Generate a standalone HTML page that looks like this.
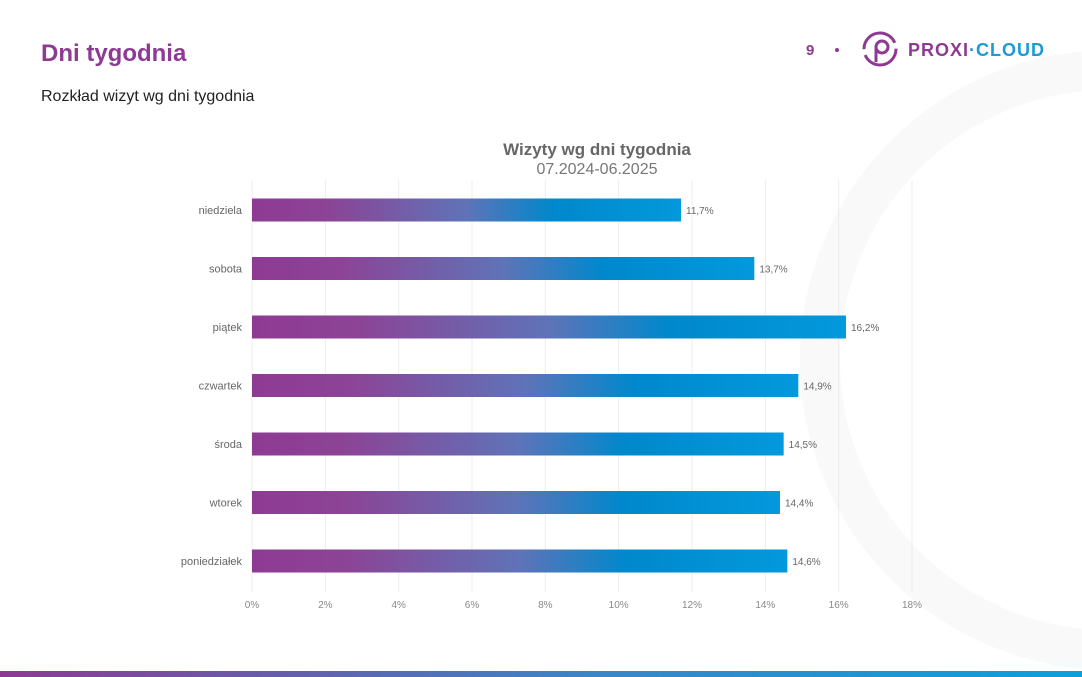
<!DOCTYPE html>
<html><head><meta charset="utf-8"><style>
body{margin:0;width:1082px;height:677px;overflow:hidden;background:#fff;font-family:"Liberation Sans",sans-serif;position:relative}
.t{position:absolute}
</style></head><body>
<svg width="1082" height="677" style="position:absolute;left:0;top:0">
<defs>
<linearGradient id="bg" x1="0" x2="1"><stop offset="0" stop-color="#8e3a93"/><stop offset="0.18" stop-color="#8c4496"/><stop offset="0.5" stop-color="#5f73b8"/><stop offset="0.7" stop-color="#0088cc"/><stop offset="1" stop-color="#0399dc"/></linearGradient>
<linearGradient id="sg" x1="0" x2="1"><stop offset="0" stop-color="#8e3a93"/><stop offset="0.55" stop-color="#3a86c8"/><stop offset="1" stop-color="#0aa0dc"/></linearGradient>
</defs>
<circle cx="1110" cy="360" r="290" fill="none" stroke="#f9f9f9" stroke-width="40"/>
<rect x="0" y="671" width="1082" height="6" fill="url(#sg)"/>
<g id="chart"></g>
<g>
<text x="806" y="55" font-size="15" font-weight="bold" fill="#8e3a93">9</text>
<circle cx="837" cy="50" r="2" fill="#8e3a93"/>
<circle cx="880" cy="49" r="16" fill="none" stroke="#8e3a93" stroke-width="3" stroke-dasharray="44 6"/>
<circle cx="882" cy="47" r="6" fill="none" stroke="#8e3a93" stroke-width="3"/>
<line x1="876" y1="47" x2="876" y2="62" stroke="#8e3a93" stroke-width="3"/>
<text x="908" y="56" font-size="18" font-weight="bold" letter-spacing="1" fill="#8e3a93">PROXI<tspan fill="#3a86c8">·</tspan><tspan fill="#1b9ad8">CLOUD</tspan></text>
</g>
</svg>
<div class="t" style="left:41px;top:40px;font-size:24px;font-weight:bold;color:#8e3a93">Dni tygodnia</div>
<div class="t" style="left:41px;top:88px;font-size:16px;color:#222">Rozkład wizyt wg dni tygodnia</div>
<div class="t" style="left:0;width:1194px;top:140px;text-align:center;font-size:17px;font-weight:bold;color:#666">Wizyty wg dni tygodnia</div>
<div class="t" style="left:0;width:1194px;top:161px;text-align:center;font-size:16px;color:#777">07.2024-06.2025</div>
<script>
const categories=["niedziela","sobota","piątek","czwartek","środa","wtorek","poniedziałek"];
const values=[11.7,13.7,16.2,14.9,14.5,14.4,14.6];
const ticks=[0,2,4,6,8,10,12,14,16,18];
const NS="http://www.w3.org/2000/svg";
const g=document.getElementById('chart');
const x=v=>252+v*(660/18);
const y=i=>210+i*58.5;
function el(t,a){const e=document.createElementNS(NS,t);for(const k in a)e.setAttribute(k,a[k]);g.appendChild(e);return e;}
ticks.forEach(t=>{
 const l=el('line',{x1:x(t),x2:x(t),y1:180,y2:592,stroke:'#ececec','stroke-width':1});
 
 
 const tx=el('text',{x:x(t),y:608,'text-anchor':'middle','font-size':10,fill:'#888'});
 tx.textContent=t+'%';
 
 
});
categories.forEach((c,i)=>{
 const r=el('rect',{x:x(0),y:y(i)-11.5,width:x(values[i])-x(0),height:23,fill:'url(#bg)'});
 
 
 const lb=el('text',{x:242,y:y(i)+4,'text-anchor':'end','font-size':11,fill:'#666'});
 lb.textContent=c;
 
 
 const v=el('text',{x:x(values[i])+5,y:y(i)+4,'font-size':10,fill:'#666'});
 v.textContent=values[i].toFixed(1).replace('.',',')+'%';
 
 
});
</script>
</body></html>
